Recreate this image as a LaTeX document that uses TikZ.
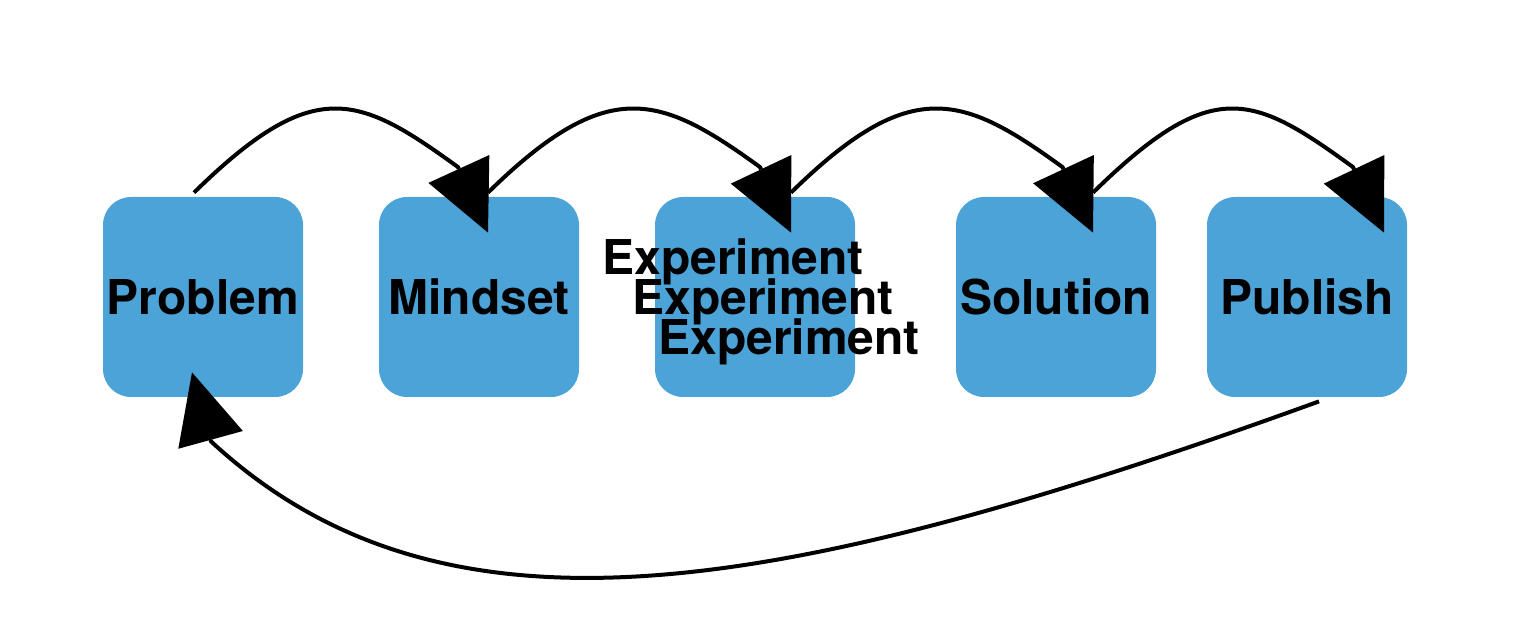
\documentclass[tikz,border=0pt]{standalone}
\usepackage{fontspec}
\setmainfont{TeX Gyre Heros}
\usetikzlibrary{arrows.meta,calc}
\definecolor{boxblue}{RGB}{75,163,216}
\begin{document}
\begin{tikzpicture}[x=0.5pt,y=-0.5pt,
  stepbox/.style={fill=boxblue,draw=none,minimum width=100pt,minimum height=100pt,
    rounded corners=14pt,inner sep=0pt,font=\bfseries\fontsize{24}{28}\selectfont},
  exptext/.style={anchor=base west,inner sep=0pt,font=\bfseries\fontsize{24}{28}\selectfont},
  conn/.style={line width=2pt,-{Triangle[length=35pt,width=33.5pt,line width=0pt]}}]
\useasboundingbox (0,0) rectangle (1536,640);
\node[stepbox] (problem) at (203,297) {Problem};
\node[stepbox] (mindset) at (479,297) {Mindset};
\node[stepbox] (experiment) at (755,297) {};
\node[stepbox] (solution) at (1056,297) {Solution};
\node[stepbox] (publish) at (1307,297) {Publish};
\node[exptext] (exp1) at ($(experiment.center)+(-153,-22)$) {Experiment};
\node[exptext] (exp2) at ($(experiment.center)+(-123,18)$) {Experiment};
\node[exptext] (exp3) at ($(experiment.center)+(-97,58)$) {Experiment};
\draw[conn] ($(problem.north)+(-9,-4)$) .. controls (314,75) and (358,94.5) .. ($(mindset.north)+(-21,-29.5)$) -- ($(mindset.north)+(9,36)$);
\draw[conn] ($(mindset.north)+(9,-4)$) .. controls (608,75) and (660,94.5) .. ($(experiment.north)+(5,-29.5)$) -- ($(experiment.north)+(36,36)$);
\draw[conn] ($(experiment.north)+(36,-4)$) .. controls (911,75) and (962.5,94.5) .. ($(solution.north)+(6.5,-29.5)$) -- ($(solution.north)+(37,36)$);
\draw[conn] ($(solution.north)+(37,-4)$) .. controls (1213,75) and (1253,94.5) .. ($(publish.north)+(46,-29.5)$) -- ($(publish.north)+(77,36)$);
\draw[conn] ($(publish.south)+(12,4)$) .. controls (769,601) and (441,654) .. ($(problem.south)+(8,44)$) -- ($(problem.south)+(-11,-25)$);
\end{tikzpicture}
\end{document}
